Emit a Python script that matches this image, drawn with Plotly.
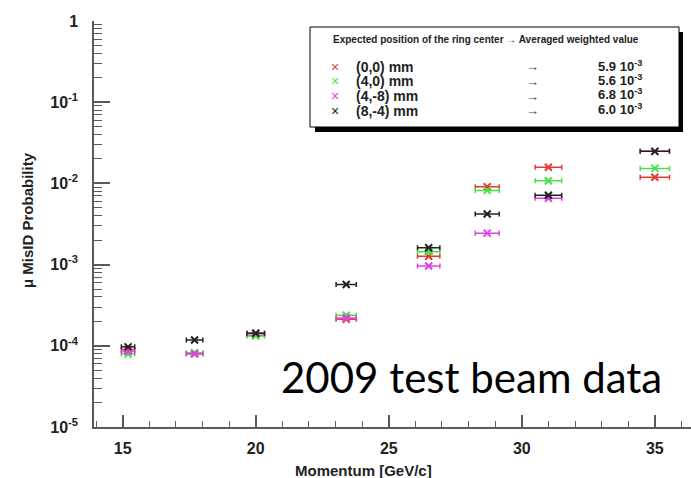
import plotly.graph_objects as go

# ---------------- data ----------------
momentum = [15.2, 17.7, 20.0, 23.4, 26.5, 28.7, 31.0, 35.0]
momentum_err = [0.25, 0.31, 0.33, 0.38, 0.42, 0.45, 0.50, 0.55]

misid_00 = [9.0e-5, 8.0e-5, 1.35e-4, 2.12e-4, 1.27e-3, 9.1e-3, 1.58e-2, 1.19e-2]
misid_40 = [7.9e-5, 8.2e-5, 1.32e-4, 2.38e-4, 1.44e-3, 8.2e-3, 1.08e-2, 1.53e-2]
misid_4m8 = [8.5e-5, 8.0e-5, 1.43e-4, 2.20e-4, 9.6e-4, 2.44e-3, 6.56e-3, 2.48e-2]
misid_8m4 = [9.7e-5, 1.18e-4, 1.43e-4, 5.7e-4, 1.61e-3, 4.2e-3, 7.14e-3, 2.48e-2]

series_names = ["(0,0) mm", "(4,0) mm", "(4,-8) mm", "(8,-4) mm"]
series_values = ["5.9 10<sup>-3</sup>", "5.6 10<sup>-3</sup>", "6.8 10<sup>-3</sup>", "6.0 10<sup>-3</sup>"]
series_data = [misid_00, misid_40, misid_4m8, misid_8m4]
series_colors = ["#e53b34", "#49e049", "#e040e6", "#222222"]

y_tickvals = [1e-5, 1e-4, 1e-3, 1e-2, 1e-1, 1]
y_ticktext = ["10<sup>-5</sup>", "10<sup>-4</sup>", "10<sup>-3</sup>",
              "10<sup>-2</sup>", "10<sup>-1</sup>", "1"]
x_tickvals = [15, 20, 25, 30, 35]

# ---------------- layout helpers ----------------
W, H = 691, 478
L, R, T, B = 94, 0, 21, 51
PW, PH = W - L - R, H - T - B


def pxx(x):
    return (x - L) / PW


def pxy(y):
    return (T + PH - y) / PH


FONT = "Liberation Sans, Arial, Helvetica, sans-serif"
AXC = "#5a5a5a"

fig = go.Figure()

for name, vals, col in zip(series_names, series_data, series_colors):
    fig.add_trace(go.Scatter(
        x=momentum, y=vals, mode="markers", name=name,
        marker=dict(symbol="x-thin", size=7, color=col, line=dict(width=2, color=col)),
        error_x=dict(type="data", array=momentum_err, color=col, thickness=1.5, width=2.5),
        showlegend=False,
    ))

minor_y = [m * 10 ** e for e in range(-5, 0) for m in range(2, 10)]

fig.update_layout(
    width=W, height=H,
    margin=dict(l=L, r=R, t=T, b=B, pad=0),
    paper_bgcolor="white", plot_bgcolor="white",
    font=dict(family=FONT, color="#111"),
    xaxis=dict(
        range=[13.92, 36.36], showgrid=False, zeroline=False,
        showline=True, linecolor=AXC, linewidth=1.5, mirror=False,
        ticks="inside", ticklen=12, tickwidth=1.5, tickcolor=AXC,
        tickvals=x_tickvals, ticklabelstandoff=6,
        tickfont=dict(size=16, family=FONT, color="#222", weight="bold"),
        minor=dict(ticks="inside", ticklen=6, tickwidth=1.3, tickcolor=AXC, dtick=1, showgrid=False),
    ),
    yaxis=dict(
        type="log", range=[-5, 0], showgrid=False, zeroline=False,
        showline=True, linecolor=AXC, linewidth=1.5,
        ticks="inside", ticklen=16, tickwidth=1.5, tickcolor=AXC,
        tickvals=y_tickvals, ticktext=y_ticktext, ticklabelstandoff=11,
        tickfont=dict(size=16, family=FONT, color="#222", weight="bold"),
        minor=dict(ticks="inside", ticklen=8, tickwidth=1.3, tickcolor=AXC,
                   tickvals=minor_y, showgrid=False),
    ),
)


def ann(x, y, text, size, color="#222", family=FONT, xanchor="center", **kw):
    fig.add_annotation(x=pxx(x), y=pxy(y), xref="paper", yref="paper",
                       text=text, showarrow=False, xanchor=xanchor, yanchor="middle",
                       borderpad=0,
                       font=dict(size=size, family=family, color=color), **kw)


# axis titles
ann(363, 470, "<b>Momentum [GeV/c]</b>", 15)
ann(27, 220, "<b>\u03bc MisID Probability</b>", 15, textangle=-90)

# big caption
ann(471, 377, "2009 test beam data", 42, color="#000", family="Lato, Open Sans, sans-serif")

# legend box with shadow
fig.add_shape(type="rect", xref="paper", yref="paper",
              x0=pxx(315), x1=pxx(683), y0=pxy(132), y1=pxy(32),
              fillcolor="black", line=dict(width=0), layer="above")
fig.add_shape(type="rect", xref="paper", yref="paper",
              x0=pxx(310), x1=pxx(679), y0=pxy(127), y1=pxy(27),
              fillcolor="white", line=dict(width=1, color="black"), layer="above")

ann(332, 39.5, "<b>Expected position of the ring center \u2192 Averaged weighted value</b>",
    10, xanchor="left")

row_y = [67, 81.5, 96, 110.5]
for ry, name, val, col in zip(row_y, series_names, series_values, series_colors):
    ann(335, ry, "\u00d7", 14, color=col)
    ann(355, ry, "<b>" + name + "</b>", 14, xanchor="left")
    ann(532, ry, "\u2192", 13, color="#444")
    ann(597, ry - 1.5, "<b>" + val + "</b>", 13, xanchor="left")

fig.write_html("out.html", config={"displayModeBar": False},
               post_script="document.body.style.margin='0px';")
